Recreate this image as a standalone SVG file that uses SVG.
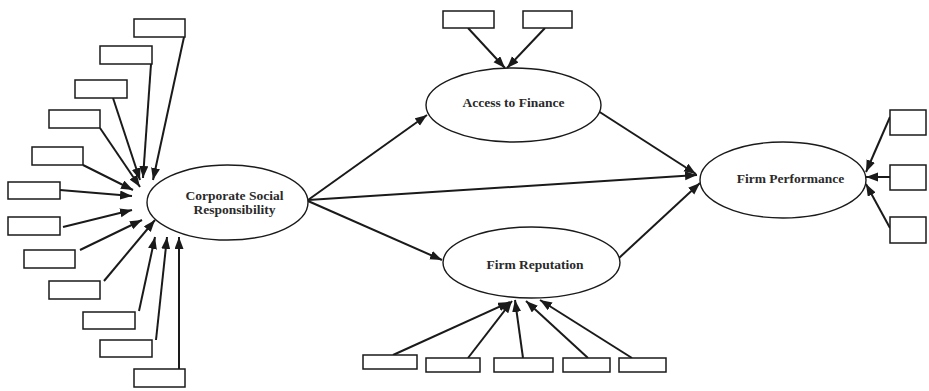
<svg xmlns="http://www.w3.org/2000/svg" width="929" height="391" viewBox="0 0 929 391">
<style>
.box{fill:#fff;stroke:#1a1a1a;stroke-width:1.5}
.ell{fill:#fff;stroke:#1a1a1a;stroke-width:1.4}
.lbl{font-family:"Liberation Serif","Times New Roman",serif;font-weight:bold;font-size:13.5px;fill:#2a2a2a;text-anchor:middle}
.con line{stroke:#1a1a1a;stroke-width:2;marker-end:url(#ah)}
</style>
<defs>
<marker id="ah" markerUnits="userSpaceOnUse" markerWidth="13" markerHeight="10" refX="12" refY="4.5" orient="auto">
<path d="M0,0 L12,4.5 L0,9 z" fill="#1a1a1a"/>
</marker>
</defs>
<rect width="929" height="391" fill="#fff"/>
<g id="connectors" class="con">
<line x1="184" y1="37" x2="153" y2="180"/>
<line x1="151" y1="64" x2="143" y2="178"/>
<line x1="113" y1="98" x2="140" y2="180"/>
<line x1="100" y1="128" x2="140" y2="187"/>
<line x1="83" y1="165" x2="133" y2="190"/>
<line x1="60" y1="190" x2="132" y2="196"/>
<line x1="63" y1="227" x2="132" y2="210"/>
<line x1="80" y1="250" x2="142" y2="220"/>
<line x1="104" y1="281" x2="155" y2="220"/>
<line x1="139" y1="311" x2="155" y2="237"/>
<line x1="156" y1="340" x2="167" y2="237"/>
<line x1="179" y1="369" x2="179" y2="237"/>
<line x1="468" y1="28" x2="505" y2="68"/>
<line x1="545" y1="28" x2="507" y2="68"/>
<line x1="308" y1="200" x2="427" y2="115"/>
<line x1="308" y1="201" x2="442" y2="260"/>
<line x1="308" y1="200" x2="697" y2="175"/>
<line x1="595" y1="109" x2="696" y2="174"/>
<line x1="619" y1="258" x2="700" y2="183"/>
<line x1="890" y1="117" x2="866" y2="172"/>
<line x1="890" y1="177" x2="866" y2="177"/>
<line x1="890" y1="228" x2="866" y2="184"/>
<line x1="393" y1="355" x2="510" y2="302"/>
<line x1="468" y1="358" x2="512" y2="301"/>
<line x1="523" y1="358" x2="515" y2="300"/>
<line x1="588" y1="358" x2="526" y2="301"/>
<line x1="632" y1="358" x2="540" y2="300"/>
</g>
<g id="csr"><ellipse class="ell" cx="227.5" cy="202.5" rx="80.5" ry="37.5"/><text class="lbl" x="234.5" y="199.5">Corporate Social</text><text class="lbl" x="234.5" y="214">Responsibility</text></g>
<g id="access"><ellipse class="ell" cx="513.5" cy="105" rx="87.5" ry="37"/><text class="lbl" x="513.5" y="107">Access to Finance</text></g>
<g id="reputation"><ellipse class="ell" cx="531.5" cy="262.5" rx="88.5" ry="35.5"/><text class="lbl" x="535" y="269">Firm Reputation</text></g>
<g id="performance"><ellipse class="ell" cx="783" cy="180" rx="83" ry="38"/><text class="lbl" x="790.5" y="183">Firm Performance</text></g>
<g id="csr1"><rect class="box" x="134" y="19" width="51" height="18"/></g>
<g id="csr2"><rect class="box" x="100" y="46" width="52" height="18"/></g>
<g id="csr3"><rect class="box" x="75" y="80" width="52" height="18"/></g>
<g id="csr4"><rect class="box" x="49" y="110" width="51" height="18"/></g>
<g id="csr5"><rect class="box" x="32" y="147" width="51" height="18"/></g>
<g id="csr6"><rect class="box" x="8" y="182" width="52" height="17"/></g>
<g id="csr7"><rect class="box" x="8" y="217" width="52" height="18"/></g>
<g id="csr8"><rect class="box" x="24" y="250" width="51" height="18"/></g>
<g id="csr9"><rect class="box" x="49" y="281" width="51" height="18"/></g>
<g id="csr10"><rect class="box" x="83" y="312" width="52" height="17"/></g>
<g id="csr11"><rect class="box" x="100" y="340" width="52" height="17"/></g>
<g id="csr12"><rect class="box" x="134" y="369" width="51" height="18"/></g>
<g id="af1"><rect class="box" x="443" y="11" width="51" height="17"/></g>
<g id="af2"><rect class="box" x="523" y="11" width="49" height="17"/></g>
<g id="fp1"><rect class="box" x="890" y="110" width="36" height="25"/></g>
<g id="fp2"><rect class="box" x="890" y="165" width="36" height="25"/></g>
<g id="fp3"><rect class="box" x="890" y="217" width="36" height="26"/></g>
<g id="fr1"><rect class="box" x="363" y="355" width="54" height="14"/></g>
<g id="fr2"><rect class="box" x="426" y="358" width="54" height="14"/></g>
<g id="fr3"><rect class="box" x="494" y="358" width="59" height="14"/></g>
<g id="fr4"><rect class="box" x="563" y="358" width="47" height="14"/></g>
<g id="fr5"><rect class="box" x="619" y="358" width="47" height="14"/></g>
</svg>
